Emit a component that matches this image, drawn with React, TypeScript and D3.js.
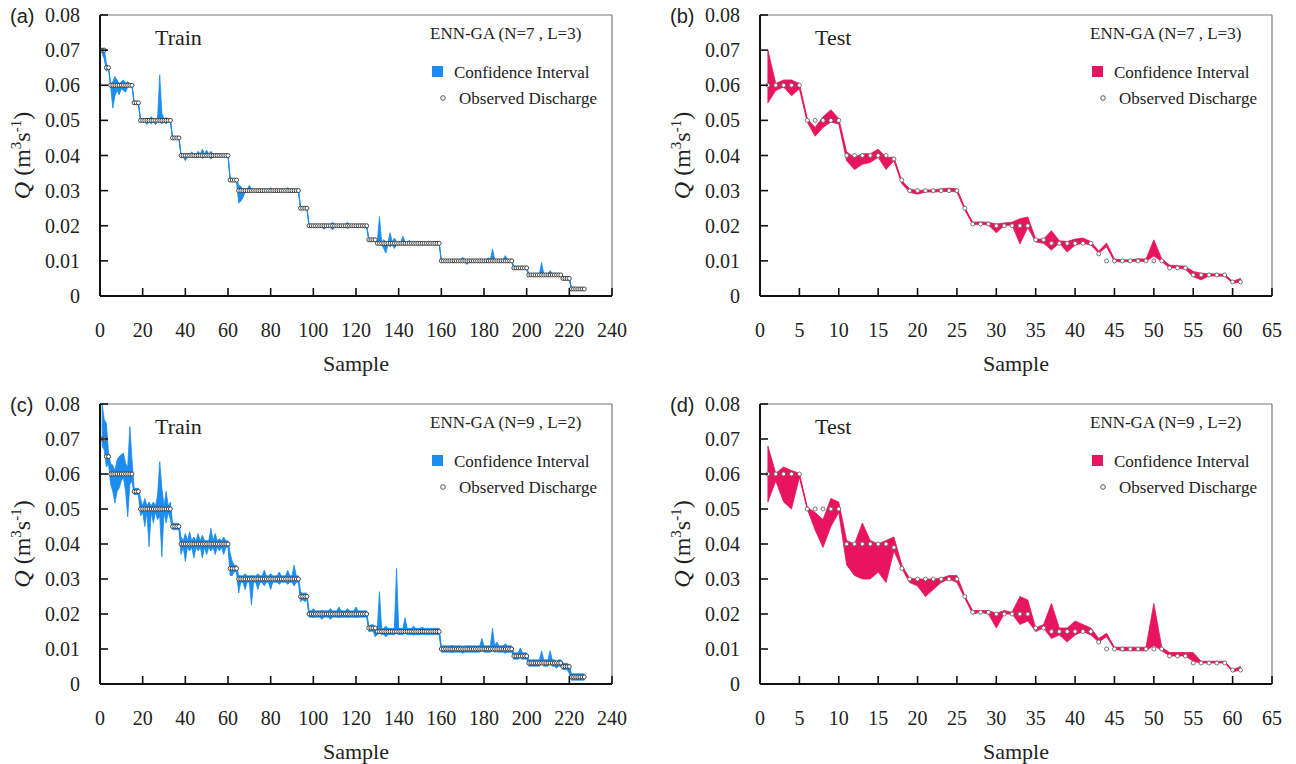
import React from "react";
import * as d3 from "d3";

// ---------------- DATA ----------------
// Train observed discharge as run-length steps (level, number of samples)
const trainLevels = [0.07, 0.065, 0.06, 0.055, 0.05, 0.045, 0.04, 0.033, 0.03, 0.025, 0.02, 0.016, 0.015, 0.01, 0.008, 0.006, 0.005, 0.002];
const trainCounts = [2, 2, 11, 3, 15, 4, 23, 4, 29, 4, 28, 4, 30, 34, 7, 16, 4, 7];

// Confidence-interval spikes [sample, upper, lower]
const trainHalfWidthA = 0.0004;
const trainSpikesA = [
  [1, 0.0705, 0.069], [2, 0.0705, 0.0675], [3, 0.066, 0.064],
  [6, 0.061, 0.0535], [7, 0.0625, 0.057], [8, 0.0615, 0.0585], [9, 0.0605, 0.0573], [10, 0.061, 0.059], [11, 0.0615, 0.0585], [12, 0.0605, 0.058], [13, 0.061, 0.0595],
  [22, 0.0505, 0.0488], [24, 0.051, 0.049], [26, 0.0505, 0.0488], [28, 0.063, 0.0495], [29, 0.052, 0.049], [31, 0.0508, 0.049],
  [40, 0.0405, 0.0385], [43, 0.041, 0.0395], [46, 0.0412, 0.0395], [48, 0.0418, 0.0392], [50, 0.0415, 0.0395], [52, 0.0412, 0.039],
  [61, 0.0338, 0.0328], [65, 0.0315, 0.0265], [66, 0.0312, 0.027], [67, 0.0305, 0.028], [70, 0.0315, 0.0295], [80, 0.0308, 0.0295], [88, 0.0308, 0.0295],
  [105, 0.0205, 0.019], [109, 0.021, 0.0188], [116, 0.021, 0.0192],
  [131, 0.0226, 0.0148], [133, 0.016, 0.0135], [134, 0.0155, 0.0122], [136, 0.018, 0.014], [138, 0.0165, 0.0135], [142, 0.017, 0.0145], [145, 0.0158, 0.0148],
  [170, 0.011, 0.0098], [172, 0.0102, 0.009], [182, 0.0108, 0.0098], [184, 0.0134, 0.0098], [190, 0.0115, 0.0098],
  [207, 0.0095, 0.006], [211, 0.0072, 0.0058],
];

const trainHalfWidthC = 0.0009;
const trainSpikesC = [
  [1, 0.08, 0.068], [2, 0.0755, 0.0669], [3, 0.0745, 0.062], [4, 0.066, 0.063],
  [5, 0.063, 0.057], [6, 0.0625, 0.055], [7, 0.061, 0.0517], [8, 0.064, 0.055], [9, 0.065, 0.056], [10, 0.0655, 0.058], [11, 0.066, 0.059], [12, 0.063, 0.055], [13, 0.062, 0.0478], [14, 0.0735, 0.057], [15, 0.064, 0.058],
  [19, 0.053, 0.048], [21, 0.053, 0.045], [23, 0.052, 0.0392], [25, 0.052, 0.046], [27, 0.054, 0.047], [28, 0.0635, 0.048], [29, 0.056, 0.0364], [31, 0.055, 0.046], [33, 0.052, 0.047],
  [38, 0.042, 0.037], [40, 0.043, 0.035], [42, 0.0435, 0.038], [44, 0.042, 0.036], [46, 0.043, 0.038], [48, 0.0425, 0.036], [50, 0.041, 0.037], [52, 0.0445, 0.038], [54, 0.043, 0.037], [56, 0.0415, 0.038], [58, 0.042, 0.037],
  [61, 0.0374, 0.031], [62, 0.035, 0.031],
  [65, 0.031, 0.026], [68, 0.0315, 0.027], [71, 0.031, 0.0226], [74, 0.0315, 0.027], [77, 0.0325, 0.028], [80, 0.0315, 0.027], [84, 0.032, 0.0285], [88, 0.0325, 0.0285], [91, 0.034, 0.028],
  [94, 0.0265, 0.0235], [96, 0.026, 0.0235],
  [100, 0.0215, 0.019], [104, 0.021, 0.0185], [108, 0.0215, 0.0185], [112, 0.022, 0.019], [116, 0.0215, 0.019], [120, 0.022, 0.019],
  [126, 0.0165, 0.015], [129, 0.0165, 0.0135], [131, 0.0264, 0.0145], [134, 0.0165, 0.0135], [139, 0.033, 0.0145], [143, 0.0189, 0.0145], [147, 0.0165, 0.014], [151, 0.0162, 0.0142],
  [165, 0.011, 0.009], [170, 0.0108, 0.0088], [179, 0.013, 0.0095], [184, 0.016, 0.0095], [186, 0.012, 0.0092], [190, 0.0115, 0.0088],
  [197, 0.0103, 0.0075], [207, 0.0095, 0.0058], [211, 0.0095, 0.0058], [214, 0.0065, 0.0045],
  [220, 0.0055, 0.003],
];

// Test observed discharge (samples 1..61)
const testObs = [
  0.06, 0.06, 0.06, 0.06, 0.06, 0.05, 0.05, 0.05, 0.05, 0.05,
  0.04, 0.04, 0.04, 0.04, 0.04, 0.04, 0.039, 0.033, 0.03, 0.03,
  0.03, 0.03, 0.03, 0.03, 0.03, 0.025, 0.0205, 0.0205, 0.0205, 0.02,
  0.02, 0.02, 0.02, 0.02, 0.016, 0.016, 0.015, 0.015, 0.015, 0.015,
  0.015, 0.015, 0.012, 0.01, 0.01, 0.01, 0.01, 0.01, 0.01, 0.01,
  0.01, 0.008, 0.008, 0.008, 0.006, 0.006, 0.006, 0.006, 0.006, 0.004,
  0.004,
];
const testUpperB = [
  0.07, 0.0605, 0.0615, 0.0615, 0.0605, 0.0505, 0.048, 0.051, 0.053, 0.0505,
  0.041, 0.0395, 0.0405, 0.0405, 0.0418, 0.0395, 0.0395, 0.0328, 0.0305, 0.03,
  0.0302, 0.0302, 0.0305, 0.0307, 0.0305, 0.0252, 0.021, 0.0211, 0.021, 0.0205,
  0.0208, 0.021, 0.022, 0.0225, 0.0162, 0.0162, 0.0186, 0.0157, 0.0155, 0.0162,
  0.0165, 0.0155, 0.0128, 0.0151, 0.0105, 0.0103, 0.0103, 0.0106, 0.0105, 0.016,
  0.0106, 0.0088, 0.0086, 0.0085, 0.007, 0.0065, 0.0063, 0.0063, 0.0062, 0.0042,
  0.005,
];
const testLowerB = [
  0.055, 0.0585, 0.0595, 0.057, 0.059, 0.0495, 0.0455, 0.048, 0.0495, 0.049,
  0.0385, 0.036, 0.0375, 0.038, 0.0395, 0.036, 0.0385, 0.032, 0.0295, 0.029,
  0.0296, 0.0296, 0.0297, 0.0298, 0.0296, 0.0245, 0.0203, 0.0204, 0.0202, 0.018,
  0.02, 0.0202, 0.0148, 0.0195, 0.0154, 0.015, 0.0131, 0.015, 0.0125, 0.0145,
  0.015, 0.0145, 0.0122, 0.014, 0.0098, 0.0097, 0.0098, 0.0099, 0.0098, 0.0114,
  0.0098, 0.008, 0.008, 0.0076, 0.0055, 0.0046, 0.0057, 0.0057, 0.0056, 0.0036,
  0.004,
];
const testUpperD = [
  0.068, 0.0602, 0.062, 0.061, 0.0602, 0.0505, 0.049, 0.047, 0.053, 0.052,
  0.041, 0.04, 0.046, 0.041, 0.04, 0.041, 0.042, 0.034, 0.0302, 0.03,
  0.03, 0.03, 0.0302, 0.031, 0.031, 0.0252, 0.021, 0.021, 0.021, 0.0202,
  0.021, 0.0205, 0.025, 0.024, 0.016, 0.017, 0.023, 0.016, 0.016, 0.018,
  0.017, 0.016, 0.013, 0.0145, 0.0105, 0.0105, 0.0105, 0.0105, 0.0105, 0.023,
  0.0105, 0.009, 0.009, 0.009, 0.009, 0.0065, 0.0065, 0.0065, 0.0065, 0.004,
  0.005,
];
const testLowerD = [
  0.052, 0.058, 0.052, 0.05, 0.059, 0.05, 0.044, 0.039, 0.045, 0.049,
  0.034, 0.031, 0.03, 0.03, 0.032, 0.029, 0.038, 0.033, 0.029, 0.028,
  0.025, 0.027, 0.029, 0.03, 0.029, 0.0245, 0.02, 0.0205, 0.02, 0.016,
  0.02, 0.02, 0.017, 0.018, 0.015, 0.016, 0.013, 0.014, 0.012, 0.014,
  0.015, 0.014, 0.012, 0.0135, 0.01, 0.0095, 0.0095, 0.0095, 0.0095, 0.011,
  0.0095, 0.008, 0.008, 0.008, 0.0065, 0.006, 0.006, 0.006, 0.006, 0.0035,
  0.004,
];

const yTicks = [0, 0.01, 0.02, 0.03, 0.04, 0.05, 0.06, 0.07, 0.08];
const yTickLabels = ["0", "0.01", "0.02", "0.03", "0.04", "0.05", "0.06", "0.07", "0.08"];
const trainXTicks = [0, 20, 40, 60, 80, 100, 120, 140, 160, 180, 200, 220, 240];
const testXTicks = [0, 5, 10, 15, 20, 25, 30, 35, 40, 45, 50, 55, 60, 65];

const BLUE = "#1b8cf0";
const PINK = "#e8145e";
const SERIF = "'Liberation Serif', 'DejaVu Serif', serif";
const SANS = "'Liberation Sans', Arial, sans-serif";

// ---------------- BUILD ----------------
type Pt = { s: number; obs: number; up: number; lo: number };

function buildTrain(hw: number, spikes: number[][]): Pt[] {
  const obs: number[] = [];
  trainLevels.forEach((lv, i) => {
    for (let k = 0; k < trainCounts[i]; k++) obs.push(lv);
  });
  const pts: Pt[] = obs.map((v, i) => ({ s: i + 1, obs: v, up: v + hw, lo: Math.max(0, v - hw) }));
  spikes.forEach(([s, up, lo]) => {
    const p = pts[s - 1];
    if (p) {
      p.up = up;
      p.lo = lo;
    }
  });
  return pts;
}

function buildTest(up: number[], lo: number[]): Pt[] {
  return testObs.map((v, i) => ({ s: i + 1, obs: v, up: up[i], lo: lo[i] }));
}

type PanelCfg = {
  letter: string;
  title: string;
  model: string;
  color: string;
  left: number;
  right: number;
  top: number;
  bottom: number;
  xMax: number;
  xTicks: number[];
  data: Pt[];
  r: number;
  mk: string;
};

function Panel({ cfg }: { cfg: PanelCfg }) {
  const { left, right, top, bottom } = cfg;
  const x = d3.scaleLinear().domain([0, cfg.xMax]).range([left, right]);
  const y = d3.scaleLinear().domain([0, 0.08]).range([bottom, top]);
  const area = d3
    .area<Pt>()
    .x((d) => x(d.s))
    .y0((d) => y(d.lo))
    .y1((d) => y(d.up));
  const midLine = d3
    .line<Pt>()
    .x((d) => x(d.s))
    .y((d) => y((d.up + d.lo) / 2));
  const cy = (top + bottom) / 2;
  return (
    <g>
      {/* frame */}
      <line x1={left} x2={right} y1={top} y2={top} stroke="#777" strokeWidth={1.2} />
      <line x1={right} x2={right} y1={top} y2={bottom} stroke="#777" strokeWidth={1.2} />
      {/* band */}
      <path d={area(cfg.data) || ""} fill={cfg.color} stroke={cfg.color} strokeWidth={0.8} />
      <path d={midLine(cfg.data) || ""} fill="none" stroke={cfg.color} strokeWidth={1} />
      {/* observed */}
      {cfg.data.map((d) => (
        <circle key={d.s} cx={x(d.s)} cy={y(d.obs)} r={cfg.r} fill="#fff" stroke={cfg.mk} strokeWidth={0.9} />
      ))}
      {/* axes */}
      <line x1={left} x2={right} y1={bottom} y2={bottom} stroke="#111" strokeWidth={2} />
      <line x1={left} x2={left} y1={top} y2={bottom} stroke="#111" strokeWidth={2} />
      {cfg.xTicks.map((t) => (
        <g key={"x" + t}>
          <line x1={x(t)} x2={x(t)} y1={bottom} y2={bottom - 8} stroke="#111" strokeWidth={1.6} />
          <text x={x(t)} y={bottom + 41} textAnchor="middle" fontFamily={SERIF} fontSize={20} fill="#222">
            {t}
          </text>
        </g>
      ))}
      {yTicks.map((t, i) => (
        <g key={"y" + t}>
          <line x1={left} x2={left + 8} y1={y(t)} y2={y(t)} stroke="#111" strokeWidth={1.6} />
          <text x={left - 20} y={y(t) + 7} textAnchor="end" fontFamily={SERIF} fontSize={20} fill="#222">
            {yTickLabels[i]}
          </text>
        </g>
      ))}
      {/* axis titles */}
      <text x={(left + right) / 2} y={bottom + 75} textAnchor="middle" fontFamily={SERIF} fontSize={22} fill="#222">
        Sample
      </text>
      <text transform={`translate(${left - 70},${cy}) rotate(-90)`} textAnchor="middle" fontFamily={SERIF} fontSize={24} fill="#222">
        <tspan fontStyle="italic">Q</tspan>
        <tspan> (m</tspan>
        <tspan dy={-9} fontSize={15}>3</tspan>
        <tspan dy={9}>s</tspan>
        <tspan dy={-9} fontSize={15}>-1</tspan>
        <tspan dy={9}>)</tspan>
      </text>
      <text x={left - 90} y={top + 8} fontFamily={SANS} fontSize={20} fill="#222">
        {cfg.letter}
      </text>
      {/* title */}
      <text x={left + 55} y={top + 30} fontFamily={SERIF} fontSize={22} fill="#222">
        {cfg.title}
      </text>
      {/* legend */}
      <text x={right - 182} y={top + 24} fontFamily={SERIF} fontSize={17} fill="#222">
        {cfg.model}
      </text>
      <rect x={right - 180} y={top + 51} width={11} height={11} fill={cfg.color} />
      <text x={right - 158} y={top + 63} fontFamily={SERIF} fontSize={17} fill="#222">
        Confidence Interval
      </text>
      <circle cx={right - 169} cy={top + 83} r={2.3} fill="#fff" stroke="#555" strokeWidth={1} />
      <text x={right - 153} y={top + 89} fontFamily={SERIF} fontSize={17} fill="#222">
        Observed Discharge
      </text>
    </g>
  );
}

export default function App() {
  const panels: PanelCfg[] = [
    { letter: "(a)", title: "Train", model: "ENN-GA (N=7 , L=3)", color: BLUE, left: 100, right: 612, top: 15, bottom: 296, xMax: 240, xTicks: trainXTicks, data: buildTrain(trainHalfWidthA, trainSpikesA), r: 2, mk: "#333" },
    { letter: "(b)", title: "Test", model: "ENN-GA (N=7 , L=3)", color: PINK, left: 760, right: 1272, top: 15, bottom: 296, xMax: 65, xTicks: testXTicks, data: buildTest(testUpperB, testLowerB), r: 2, mk: "#666" },
    { letter: "(c)", title: "Train", model: "ENN-GA (N=9 , L=2)", color: BLUE, left: 100, right: 612, top: 404, bottom: 684, xMax: 240, xTicks: trainXTicks, data: buildTrain(trainHalfWidthC, trainSpikesC), r: 2, mk: "#333" },
    { letter: "(d)", title: "Test", model: "ENN-GA (N=9 , L=2)", color: PINK, left: 760, right: 1272, top: 404, bottom: 684, xMax: 65, xTicks: testXTicks, data: buildTest(testUpperD, testLowerD), r: 2, mk: "#666" },
  ];
  return (
    <svg width={1296} height={764} style={{ position: "absolute", left: 0, top: 0, background: "#fff" }}>
      {panels.map((p) => (
        <Panel key={p.letter} cfg={p} />
      ))}
    </svg>
  );
}
